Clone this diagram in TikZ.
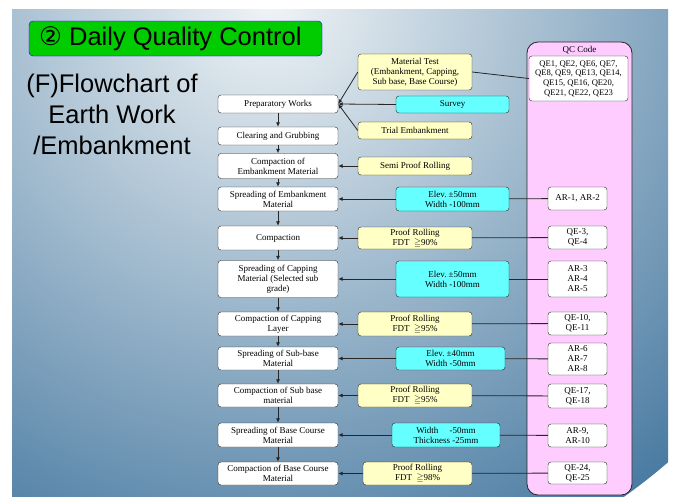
\documentclass[tikz,border=0pt]{standalone}
\usepackage{amssymb}
\usepackage{fontspec}
\setmainfont{Liberation Serif}
\newfontfamily\titlefont{Liberation Sans}
\newfontfamily\circfont{DejaVu Sans}
\usetikzlibrary{arrows.meta}
\definecolor{chkyellow}{HTML}{FFFFC6}
\definecolor{tolcyan}{HTML}{66FFFF}
\definecolor{qcpink}{HTML}{FFCCFF}
\definecolor{titlegreen}{HTML}{00CC00}
\definecolor{bglight}{HTML}{F0F4F6}
\definecolor{bgdark}{HTML}{4A7BA2}
\frenchspacing

\begin{document}
\begin{tikzpicture}[x=1pt,y=-1pt,
  stepbox/.style={draw=black!85,fill=white,rounded corners=3pt,minimum width=120,minimum height=24,inner sep=1pt,align=center,font=\fontsize{9}{10}\selectfont},
  chk/.style={stepbox,fill=chkyellow,minimum width=114},
  tol/.style={stepbox,fill=tolcyan,minimum width=113},
  codebox/.style={stepbox,minimum width=59},
  link/.style={draw=black!85,line width=.8pt},
  flow/.style={link,-{Latex[length=4.5pt,width=4pt]}}]
\useasboundingbox (0,0) rectangle (675,496);
\fill[white] (0,0) rectangle (675,496);
\begin{scope}
  \clip (12,9) rectangle (668,496);
  \shade[inner color=bglight,outer color=bgdark] (270,0) circle (610);
\end{scope}

% title and heading
\node [draw=blue,fill=titlegreen,rounded corners=4pt,minimum width=293,minimum height=35] (title) at (175.5,38.5) {};
\node [anchor=west,inner sep=0pt,font=\titlefont\fontsize{25.5}{30}\selectfont] (titletext) at (39,38.5) {{\circfont②} Daily Quality Control};
\node [align=center,font=\titlefont\fontsize{25.5}{31}\selectfont] (heading) at (112,114) {(F)Flowchart of\\Earth Work\\/Embankment};

% QC code panel
\node [draw=black!85,line width=.8pt,fill=qcpink,rounded corners=11pt,minimum width=105,minimum height=453] (qcpanel) at (579.5,268.5) {};
\node [font=\fontsize{9}{10}\selectfont] (qctitle) at (579.5,50) {QC Code};

% main steps
\node [stepbox,minimum height=18] (prep) at (278,104) {Preparatory Works};
\node [stepbox,minimum height=18] (clear) at (278,136) {Clearing and Grubbing};
\node [stepbox,minimum height=25] (compemb) at (278,166) {Compaction of\\Embankment Material};
\node [stepbox] (spremb) at (278,199) {Spreading of Embankment\\Material};
\node [stepbox] (comp) at (278,238) {Compaction};
\node [stepbox,minimum height=37] (sprcap) at (278,279) {Spreading of Capping\\Material (Selected sub\\grade)};
\node [stepbox] (compcap) at (278,324) {Compaction of Capping\\Layer};
\node [stepbox,minimum height=23] (sprsub) at (278,358.5) {Spreading of Sub-base\\Material};
\node [stepbox,minimum height=23] (compsub) at (278,395.5) {Compaction of Sub base\\material};
\node [stepbox] (sprbase) at (278,435) {Spreading of Base Course\\Material};
\node [stepbox,minimum height=23] (compbase) at (278,473.5) {Compaction of Base Course\\Material};

% checks and tolerances
\node [chk,minimum height=36] (mattest) at (415,72) {Material Test\\(Embankment, Capping,\\Sub base, Base Course)};
\node [tol,minimum height=17] (survey) at (452.5,104.5) {Survey};
\node [chk,minimum height=17] (trial) at (415,130.5) {Trial Embankment};
\node [chk,minimum height=18] (semi) at (415,166) {Semi Proof Rolling};
\node [tol] (tola) at (452.5,199) {Elev. ±50mm\\Width -100mm};
\node [chk,minimum height=22] (prfa) at (415,238) {Proof Rolling\\FDT \ $\geqq$90\%};
\node [tol,minimum height=36] (tolb) at (452.5,279) {Elev. ±50mm\\Width -100mm};
\node [chk] (prfb) at (415,324) {Proof Rolling\\FDT \ $\geqq$95\%};
\node [tol,minimum width=109,minimum height=23] (tolc) at (450.5,358.5) {Elev. ±40mm\\Width -50mm};
\node [chk,minimum height=23] (prfc) at (415,395.5) {Proof Rolling\\FDT \ $\geqq$95\%};
\node [tol,minimum width=108] (told) at (446,435) {Width \quad -50mm\\Thickness -25mm};
\node [chk,minimum width=109,minimum height=23] (prfd) at (417.5,473.5) {Proof Rolling\\FDT \ $\geqq$98\%};

% QC codes
\node [codebox,minimum width=99,minimum height=45,font=\fontsize{8.6}{9.7}\selectfont] (qelist) at (578.5,78.5) {QE1, QE2, QE6, QE7,\\QE8, QE9, QE13, QE14,\\QE15, QE16, QE20,\\QE21, QE22, QE23};
\node [codebox,minimum height=23] (ara) at (577.5,198.5) {AR-1, AR-2};
\node [codebox,minimum height=23] (qea) at (577.5,237.5) {QE-3,\\QE-4};
\node [codebox,minimum height=36] (arb) at (577.5,279) {AR-3\\AR-4\\AR-5};
\node [codebox,minimum height=23] (qeb) at (577.5,323.5) {QE-10,\\QE-11};
\node [codebox,minimum height=32] (arc) at (577.5,359) {AR-6\\AR-7\\AR-8};
\node [codebox,minimum height=24] (qec) at (577.5,396) {QE-17,\\QE-18};
\node [codebox,minimum height=23] (ard) at (577.5,435.5) {AR-9,\\AR-10};
\node [codebox,minimum height=22] (qed) at (577.5,473) {QE-24,\\QE-25};

% flow down the steps
\foreach \a/\b in {prep/clear,clear/compemb,compemb/spremb,spremb/comp,comp/sprcap,sprcap/compcap,compcap/sprsub,sprsub/compsub,compsub/sprbase,sprbase/compbase}
  \draw [flow] (\a) -- (\b);

% checks into the steps
\foreach \a in {mattest,survey,trial}
  \draw [flow] (\a.west) -- (prep.east);
\foreach \a/\b in {semi/compemb,tola/spremb,prfa/comp,tolb/sprcap,prfb/compcap,tolc/sprsub,prfc/compsub,told/sprbase,prfd/compbase}
  \draw [flow] (\a) -- (\b);

% links to QC codes
\draw [link] (mattest.east) -- (qelist.west);
\foreach \a/\b in {tola/ara,prfa/qea,tolb/arb,prfb/qeb,tolc/arc,prfc/qec,told/ard,prfd/qed}
  \draw [link] (\a) -- (\b);
\end{tikzpicture}
\end{document}
